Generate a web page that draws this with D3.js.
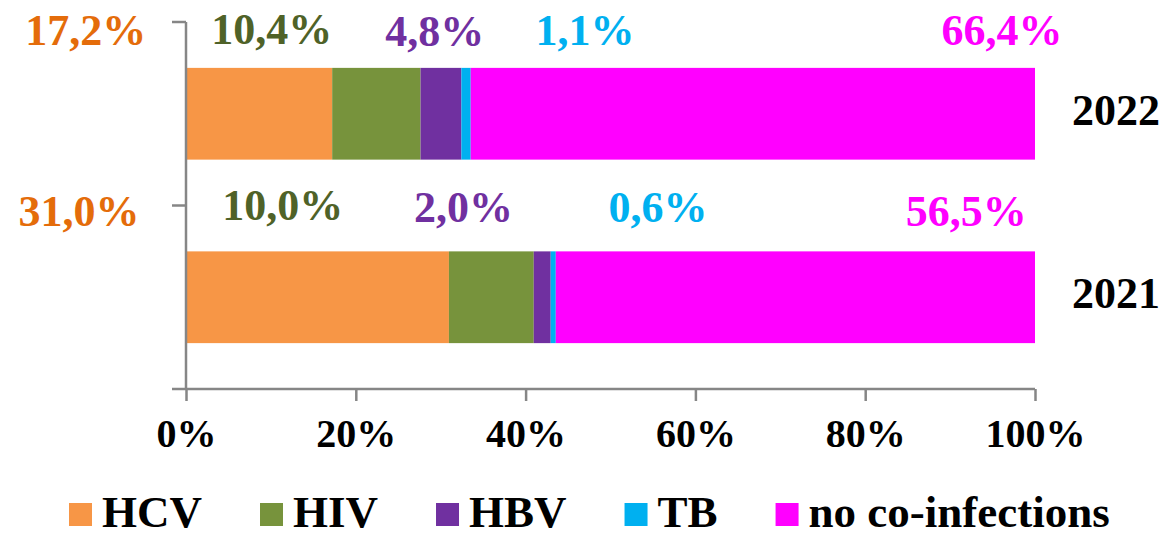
<!DOCTYPE html>
<html>
<head>
<meta charset="utf-8">
<script src="https://cdn.jsdelivr.net/npm/d3@7"></script>
<style>
  body { margin: 0; background: #fff; }
</style>
</head>
<body>
<div id="chart"></div>
<script>
// chart data
let years = ["2022", "2021"];
let series = ["HCV", "HIV", "HBV", "TB", "no co-infections"];
let values2022 = [17.2, 10.4, 4.8, 1.1, 66.4];
let values2021 = [31.0, 10.0, 2.0, 0.6, 56.5];
let labels2022 = ["17,2%", "10,4%", "4,8%", "1,1%", "66,4%"];
let labels2021 = ["31,0%", "10,0%", "2,0%", "0,6%", "56,5%"];
let tickValues = [0, 0.2, 0.4, 0.6, 0.8, 1];
let tickLabels = ["0%", "20%", "40%", "60%", "80%", "100%"];

// look
let barColors = ["#F79646", "#77933C", "#7030A0", "#00B0F0", "#FF00FF"];
let labelColors = ["#E46C0A", "#4F6228", "#7030A0", "#00B0F0", "#FF00FF"];
let axisColor = "#868686";
let serif = "'Liberation Serif', 'DejaVu Serif', serif";

// where the value labels sit (in axis units, the source placed them by hand)
let labelX = { "2022": [-0.118, 0.101, 0.293, 0.470, 0.961],
               "2021": [-0.126, 0.114, 0.327, 0.556, 0.919] };
let labelDy = { "2022": [-69, -70, -68, -69, -69],
                "2021": [-71, -77, -75, -75, -71] };

let svgWidth = 1164;
let svgHeight = 537;

let margin = { top: 22, left: 186, right: 129, bottom: 148 };
let width = svgWidth - margin.left - margin.right;
let height = svgHeight - margin.top - margin.bottom;

let svg = d3.select("#chart")
  .append("svg")
  .attr("width", svgWidth)
  .attr("height", svgHeight)
  .style("font-family", serif)
  .style("font-weight", "bold");

let chartGroup = svg.append("g")
  .attr("transform", `translate(${margin.left}, ${margin.top})`);

// build rows for the stack
let rows = years.map(function(y) {
  let vals = y === "2022" ? values2022 : values2021;
  let row = { year: y };
  series.forEach((s, i) => row[s] = vals[i]);
  return row;
});

let stacked = d3.stack()
  .keys(series)
  .offset(d3.stackOffsetExpand)(rows);

let xScale = d3.scaleLinear().domain([0, 1]).range([0, width]);
let yScale = d3.scaleBand().domain(years).range([0, height]).padding(0);
let bw = yScale.bandwidth();

// bars
chartGroup.selectAll("g.layer")
  .data(stacked)
  .enter()
  .append("g")
    .attr("class", "layer")
    .attr("fill", (d, i) => barColors[i])
  .selectAll("rect")
  .data(d => d)
  .enter()
  .append("rect")
    .attr("x", d => xScale(d[0]))
    .attr("width", d => xScale(d[1]) - xScale(d[0]))
    .attr("y", d => yScale(d.data.year) + bw * 0.25)
    .attr("height", bw * 0.5);

// x axis
let bottomAxis = d3.axisBottom(xScale)
  .tickValues(tickValues)
  .tickSize(12)
  .tickFormat((d, i) => tickLabels[i]);

let xAxis = chartGroup.append("g")
  .attr("transform", `translate(0, ${height})`)
  .call(bottomAxis);

xAxis.select(".domain")
  .attr("d", `M-14,0H${width}`);

xAxis.selectAll("line, path")
  .attr("stroke", axisColor)
  .attr("stroke-width", 2.5);

xAxis.selectAll("text")
  .attr("y", 58)
  .attr("dy", 0)
  .attr("fill", "#000")
  .style("font-family", serif)
  .style("font-size", "40px");

// y axis (only the line and the band borders)
let yAxis = chartGroup.append("g");
yAxis.append("line")
  .attr("x1", 0).attr("x2", 0)
  .attr("y1", 0).attr("y2", height)
  .attr("stroke", axisColor)
  .attr("stroke-width", 2.5);

yAxis.selectAll("line.tick")
  .data([0, bw])
  .enter()
  .append("line")
    .attr("class", "tick")
    .attr("x1", -14).attr("x2", 0)
    .attr("y1", d => d).attr("y2", d => d)
    .attr("stroke", axisColor)
    .attr("stroke-width", 2.5);

// year labels on the right
chartGroup.selectAll("text.year")
  .data(years)
  .enter()
  .append("text")
    .attr("class", "year")
    .attr("x", width + 37)
    .attr("y", d => yScale(d) + bw / 2 + 11)
    .attr("fill", "#000")
    .style("font-family", serif)
    .style("font-size", "44px")
    .text(d => d);

// value labels
years.forEach(function(y) {
  let labels = y === "2022" ? labels2022 : labels2021;
  chartGroup.selectAll("text.val" + y)
    .data(labels)
    .enter()
    .append("text")
      .attr("class", "val" + y)
      .attr("text-anchor", "middle")
      .attr("x", (d, i) => xScale(labelX[y][i]))
      .attr("y", (d, i) => yScale(y) + bw / 2 + labelDy[y][i])
      .attr("fill", (d, i) => labelColors[i])
      .style("font-family", serif)
      .style("font-size", "44px")
      .text(d => d);
});

// legend
let legend = svg.append("g")
  .attr("transform", "translate(69, 503)");

let lx = 0;
series.forEach(function(s, i) {
  legend.append("rect")
    .attr("x", lx)
    .attr("y", 0)
    .attr("width", 23)
    .attr("height", 23)
    .attr("fill", barColors[i]);

  let t = legend.append("text")
    .attr("x", lx + 33)
    .attr("y", 24)
    .attr("fill", "#000")
    .style("font-family", serif)
    .style("font-size", "45px")
    .text(s);

  lx += 33 + t.node().getComputedTextLength() + 58;
});
</script>
</body>
</html>
